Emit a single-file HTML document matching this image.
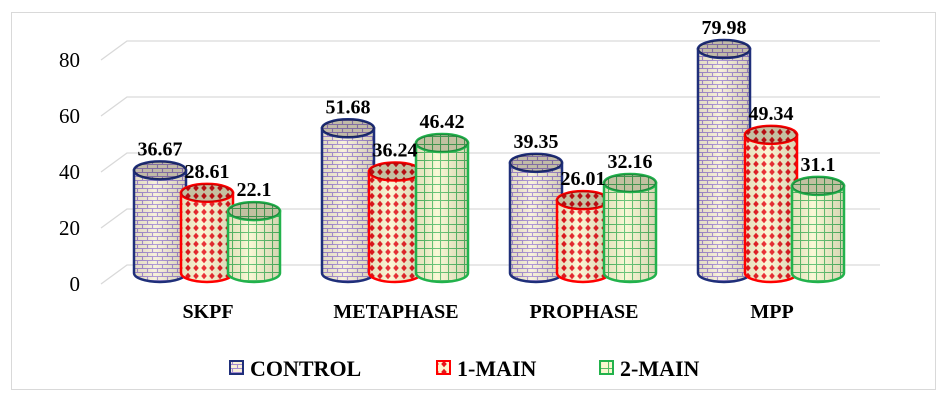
<!DOCTYPE html>
<html><head><meta charset="utf-8"><style>
body{margin:0;background:#fff}
svg{display:block;font-family:"Liberation Serif",serif}
</style></head><body>
<svg id="chart" width="947" height="402">
<defs>
<pattern id="pBrick" width="10" height="8" patternUnits="userSpaceOnUse">
<rect width="10" height="8" fill="#f8f0d6"/>
<path d="M0 0.5H10M0 4.5H10M2.5 0V4.5M7.5 4.5V8" stroke="#a48ad0" stroke-width="1.1" fill="none"/>
</pattern>
<pattern id="pDiamond" width="8" height="8" patternUnits="userSpaceOnUse">
<rect width="8" height="8" fill="#fcf6cf"/>
<path d="M4 0.8L6.8 4L4 7.2L1.2 4Z" fill="#e8141a"/>
</pattern>
<pattern id="pGrid" width="8" height="8" patternUnits="userSpaceOnUse">
<rect width="8" height="8" fill="#f9f8cf"/>
<path d="M0 0.5H8M0.5 0V8" stroke="#55bd66" stroke-width="1.1" fill="none"/>
</pattern>
<linearGradient id="shade" x1="0" x2="1">
<stop offset="0" stop-color="#000" stop-opacity="0.08"/>
<stop offset="0.4" stop-color="#fff" stop-opacity="0.15"/>
<stop offset="1" stop-color="#000" stop-opacity="0.14"/>
</linearGradient>
</defs>
<rect x="11.5" y="12.5" width="924" height="377" fill="#fff" stroke="#d9d9d9"/>
<g id="grid"></g><g id="bars"></g><g id="labels"></g>
</svg>
<script>
const categories=["SKPF","METAPHASE","PROPHASE","MPP"];
const seriesNames=["CONTROL","1-MAIN","2-MAIN"];
const controlVals=[36.67,51.68,39.35,79.98];
const main1Vals=[28.61,36.24,26.01,49.34];
const main2Vals=[22.1,46.42,32.16,31.1];
const valueLabels=[["36.67","51.68","39.35","79.98"],["28.61","36.24","26.01","49.34"],["22.1","46.42","32.16","31.1"]];
const ticks=[0,20,40,60,80];
const series=[controlVals,main1Vals,main2Vals];
const fills=["url(#pBrick)","url(#pDiamond)","url(#pGrid)"];
const strokes=["#1f2f7a","#ff0000","#22b24c"];
const NS="http://www.w3.org/2000/svg";
function el(t,a,p){const e=document.createElementNS(NS,t);for(const k in a)e.setAttribute(k,a[k]);p.appendChild(e);return e;}
const y=v=>273-v*2.8;
const yFront=v=>284-v*2.8;
const groupX=i=>134+i*188;
const barX=(i,s)=>groupX(i)+s*47;
const G=document.getElementById('grid'),B=document.getElementById('bars'),L=document.getElementById('labels');
ticks.forEach(t=>{
  const yf=yFront(t),yb=yf-19;
  const g=el('polyline',{points:`101,${yf} 127,${yb} 880,${yb}`,fill:'none',stroke:'#d9d9d9','stroke-width':1.3},G);
  
  
  const tx=el('text',{x:80,y:yf+7,'text-anchor':'end','font-size':21,fill:'#000'},G);
  tx.textContent=t;
  
  
});
const w=52,ry=9;
categories.forEach((c,i)=>{
  series.forEach((vals,s)=>{
    const x=barX(i,s),cx=x+w/2,top=y(vals[i]),bot=y(0);
    const g=el('g',{},B);
    
    
    const d=`M${x} ${top} L${x} ${bot} A${w/2} ${ry} 0 0 0 ${x+w} ${bot} L${x+w} ${top} Z`;
    el('path',{d,fill:fills[s]},g);
    el('path',{d,fill:'url(#shade)',stroke:strokes[s],'stroke-width':2.5},g);
    el('ellipse',{cx,cy:top,rx:w/2,ry,fill:fills[s],stroke:strokes[s],'stroke-width':2.5},g);
    el('ellipse',{cx,cy:top,rx:w/2,ry,fill:'#000','fill-opacity':0.22},g);
    const t=el('text',{x:cx,y:top-15,'text-anchor':'middle','font-size':20,'font-weight':'bold'},L);
    t.textContent=valueLabels[s][i];
    
    
  });
  const ct=el('text',{x:groupX(i)+74,y:318,'text-anchor':'middle','font-size':20,'font-weight':'bold'},L);
  ct.textContent=c;
  
  
});
const legX=[230,437,600];
seriesNames.forEach((n,s)=>{
  const g=el('g',{},L);
  
  
  el('rect',{x:legX[s],y:361,width:13,height:13,fill:fills[s],stroke:strokes[s],'stroke-width':2},g);
  const t=el('text',{x:legX[s]+20,y:376,'font-size':22,'font-weight':'bold'},g);
  t.textContent=n;
});
</script>
</body></html>
